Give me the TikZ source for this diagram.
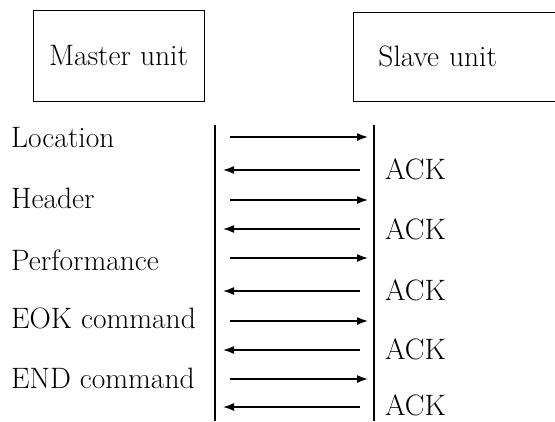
\documentclass[tikz,border=0pt]{standalone}
\usepackage{fontspec}
\usetikzlibrary{arrows.meta}
\begin{document}
\begin{tikzpicture}[x=1pt,y=-1pt,
  every node/.style={font=\fontsize{29.5}{34}\selectfont},
  unitbox/.style={draw, line width=0.9pt, inner sep=0pt},
  lifeline/.style={line width=1.1pt},
  msg/.style={line width=1.5pt, -{Latex[length=11pt,width=8pt]}},
  lbl/.style={anchor=base west, inner sep=0pt},
  ack/.style={anchor=base west, inner sep=0pt}]
\useasboundingbox (0,0) rectangle (555,421);
\clip (0,0) rectangle (555,421);
% units
\node[unitbox, minimum width=171pt, minimum height=91pt] (master) at (118.5,55.5) {Master unit};
\node[unitbox, anchor=west, text width=230pt, align=left, minimum height=89pt] (slave) at (353,56.5) {\hspace{25pt}Slave unit};
% lifelines
\coordinate (mt) at (215,125);
\coordinate (mb) at (215,421);
\coordinate (st) at (374,125);
\coordinate (sb) at (374,421);
\draw[lifeline] (mt) -- (mb);
\draw[lifeline] (st) -- (sb);
% messages
\foreach \i/\y in {1/137,2/200,3/258,4/321,5/379}{
  \coordinate (mr\i) at (215,\y);
  \coordinate (sr\i) at (374,\y);
  \draw[msg, shorten <=15pt, shorten >=6pt] (mr\i) -- (sr\i);
}
\foreach \i/\y/\b in {1/170/179,2/229/239,3/291/300,4/350/359,5/407/415}{
  \coordinate (ml\i) at (215,\y);
  \coordinate (sl\i) at (374,\y);
  \draw[msg, shorten <=14pt, shorten >=8pt] (sl\i) -- (ml\i);
  \node[ack] (ack\i) at (385,\b) {ACK};
}
% labels
\node[lbl] (loc) at (11,147) {Location};
\node[lbl] (hdr) at (11,208) {Header};
\node[lbl] (perf) at (11,270) {Performance};
\node[lbl] (eok) at (11,328) {EOK command};
\node[lbl] (endc) at (11,388) {END command};
\end{tikzpicture}
\end{document}
